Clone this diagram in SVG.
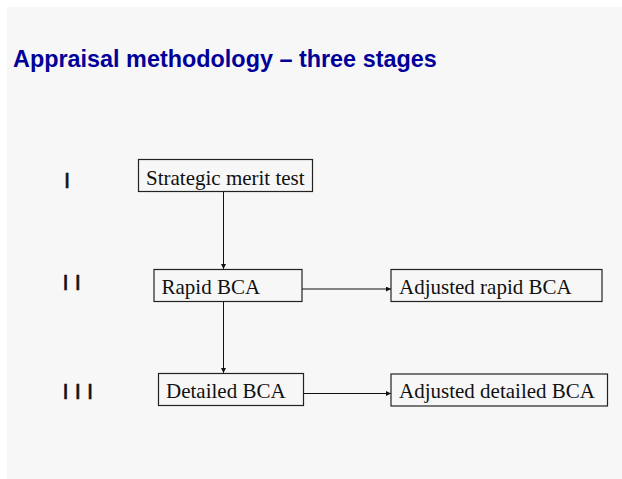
<svg xmlns="http://www.w3.org/2000/svg" width="622" height="479" viewBox="0 0 622 479">
  <style>
    .box rect { fill: #f7f7f7; stroke: #222; stroke-width: 1.2; }
    .box text { font-family: "Liberation Serif", "Times New Roman", serif; font-size: 21px; fill: #111; }
    .stage { font-family: "Liberation Sans", Arial, sans-serif; font-size: 22px; fill: #111; stroke: #111; stroke-width: 0.6; }
    .title { font-family: "Liberation Sans", Arial, sans-serif; font-size: 23.4px; font-weight: bold; fill: #000099; }
    .conn line { stroke: #111; stroke-width: 1; }
  </style>
  <defs>
    <marker id="arrow" viewBox="0 0 6 6" refX="6" refY="3" markerWidth="5" markerHeight="5" orient="auto" markerUnits="userSpaceOnUse">
      <path d="M0,0 L6,3 L0,6 Z" fill="#111"/>
    </marker>
  </defs>

  <!-- page -->
  <rect x="0" y="0" width="622" height="479" fill="#ffffff"/>
  <rect x="7" y="7" width="615" height="472" fill="#f7f7f7"/>

  <text class="title" x="13" y="67">Appraisal methodology – three stages</text>

  <!-- stage numerals -->
  <text class="stage" x="64" y="188">I</text>
  <text class="stage" x="62.5" y="290">I I</text>
  <text class="stage" x="62.5" y="399">I I I</text>

  <!-- connectors -->
  <g id="connectors" class="conn">
    <line x1="223.5" y1="192" x2="223.5" y2="269" marker-end="url(#arrow)"/>
    <line x1="223.5" y1="302" x2="223.5" y2="373" marker-end="url(#arrow)"/>
    <line x1="302" y1="289" x2="391" y2="289" marker-end="url(#arrow)"/>
    <line x1="303.5" y1="393.5" x2="391" y2="393.5" marker-end="url(#arrow)"/>
  </g>

  <g id="strategic-merit-test" class="box">
    <rect x="138.5" y="159.5" width="174" height="32"/>
    <text x="146" y="184.5">Strategic merit test</text>
  </g>
  <g id="rapid-bca" class="box">
    <rect x="154" y="269.5" width="148" height="32"/>
    <text x="161.5" y="293.5">Rapid BCA</text>
  </g>
  <g id="adjusted-rapid-bca" class="box">
    <rect x="391" y="269.5" width="211" height="32"/>
    <text x="399" y="293.5">Adjusted rapid BCA</text>
  </g>
  <g id="detailed-bca" class="box">
    <rect x="158.5" y="373.5" width="145" height="32"/>
    <text x="166" y="398">Detailed BCA</text>
  </g>
  <g id="adjusted-detailed-bca" class="box">
    <rect x="391" y="374" width="216.5" height="32"/>
    <text x="399" y="397.5">Adjusted detailed BCA</text>
  </g>
</svg>
